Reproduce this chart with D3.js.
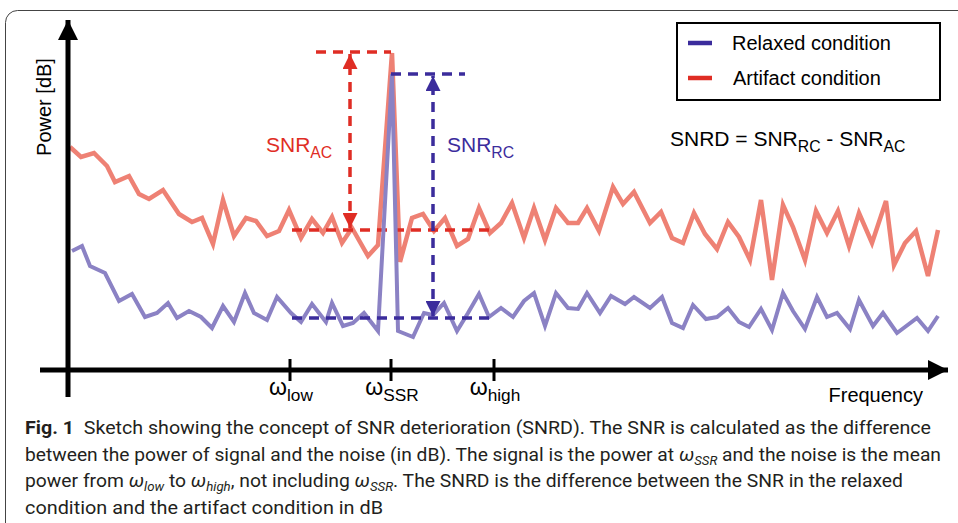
<!DOCTYPE html>
<html>
<head>
<meta charset="utf-8">
<script src="https://cdn.jsdelivr.net/npm/d3@7"></script>
<style>
  body { margin: 0; background: #fff; }
  text { font-family: "Liberation Sans", Arial, sans-serif; }
</style>
</head>
<body>
<svg id="chart" width="958" height="523"></svg>
<script>
// spectrum sketch, values (freq in arbitrary units, power in dB)
var redFreq = [0, 1.1, 2.4, 3.7, 4.5, 5.9, 6.9, 7.9, 9.3, 10.9, 12.2, 13.2, 14.3, 15.3, 16.4, 17.6, 18.6, 19.7, 20.9, 21.9,
  23.1, 24.2, 25.3, 26.2, 27.2, 28.2, 29.8, 30.8, 32.2, 33.0, 34.2, 35.3, 36.4, 37.5, 38.7, 39.8, 40.9, 42.0, 43.1, 44.2,
  45.4, 46.4, 47.5, 48.6, 49.8, 50.8, 51.7, 52.9, 54.3, 55.3, 56.4, 58.0, 59.1, 60.2, 61.3, 62.4, 63.5, 64.7, 65.8, 66.9,
  68.0, 69.1, 70.2, 71.3, 72.3, 73.5, 74.6, 75.7, 76.8, 77.9, 78.9, 80.2, 81.6, 82.4, 83.5, 84.6, 85.8, 86.8];
var redPower = [22.3, 21.3, 21.7, 20.4, 18.8, 19.4, 17.6, 17.1, 18.0, 15.6, 14.8, 15.2, 12.6, 17.0, 13.4, 15.2, 14.9, 13.4, 13.9, 16.0,
  13.2, 15.1, 13.7, 15.3, 12.7, 14.2, 11.4, 12.5, 31.7, 10.8, 15.2, 15.6, 13.9, 15.2, 12.4, 13.1, 16.2, 13.7, 14.7, 16.7,
  13.2, 16.2, 13.0, 16.2, 14.7, 14.7, 16.2, 13.9, 18.3, 16.6, 17.8, 14.7, 15.8, 13.2, 12.7, 15.7, 13.6, 12.1, 14.8, 13.3,
  11.0, 17.0, 9.0, 16.5, 14.3, 11.0, 15.9, 13.7, 15.9, 12.4, 15.7, 12.7, 16.9, 10.5, 12.7, 13.9, 9.4, 14.0];

var blueFreq = [0.2, 1.2, 2.0, 3.5, 4.9, 6.2, 7.5, 8.7, 9.8, 10.7, 11.9, 13.1, 14.2, 15.3, 16.4, 17.5, 18.4, 19.7, 20.7, 22.1,
  23.1, 24.2, 25.6, 26.2, 27.3, 28.3, 29.4, 30.8, 32.2, 32.8, 34.3, 35.4, 36.3, 37.4, 38.7, 39.8, 40.9, 41.9, 43.1, 44.3,
  45.4, 46.4, 47.5, 48.6, 49.8, 50.8, 51.7, 53.0, 54.1, 55.5, 56.4, 58.0, 59.2, 60.2, 61.3, 62.3, 63.6, 64.7, 65.8, 66.9,
  67.9, 69.1, 70.2, 71.3, 72.3, 73.5, 74.7, 75.7, 76.7, 78.0, 78.9, 80.3, 81.3, 82.7, 84.7, 85.8, 86.8];
var bluePower = [11.9, 12.4, 10.4, 9.7, 6.9, 7.6, 5.3, 5.7, 6.7, 5.2, 5.9, 5.3, 4.2, 6.4, 4.8, 7.7, 5.7, 5.0, 7.3, 5.7,
  4.8, 6.6, 4.8, 6.7, 4.4, 4.7, 5.7, 3.9, 29.6, 3.9, 3.3, 5.7, 5.5, 6.7, 3.9, 5.7, 7.6, 5.3, 6.2, 5.3,
  6.9, 7.7, 4.4, 7.7, 6.2, 6.1, 7.7, 5.7, 7.4, 6.6, 7.3, 6.2, 7.3, 4.7, 4.2, 6.5, 5.1, 5.3, 6.2, 4.8,
  4.3, 6.1, 4.0, 7.7, 5.9, 4.1, 7.3, 5.3, 5.7, 4.1, 7.0, 4.4, 5.7, 3.7, 5.2, 3.9, 5.4];

// frequency marks on the axis
var markFreq = [22.0, 32.1, 42.4];
var markSub = ["low", "SSR", "high"];

// SNR annotation levels
var noiseAC = 14.0, signalAC = 31.8, noiseRC = 5.2, signalRC = 29.6;
var noiseFrom = 22.2, noiseTo = 42.5;
var arrowAC = 28.0, arrowRC = 36.3;
var topACFrom = 24.6, topRCTo = 39.5;

var legendNames = ["Relaxed condition", "Artifact condition"];

var RED_LINE = "#ee8174", BLUE_LINE = "#8b82c4";
var RED = "#df2d24", BLUE = "#3b2c9c";

var svg = d3.select("#chart");

var x = d3.scaleLinear().domain([0, 87.5]).range([70, 945]);
var y = d3.scaleLinear().domain([0, 34]).range([370, 30]);

// frame round the figure
svg.append("rect")
  .attr("x", 5.5).attr("y", 10.5).attr("width", 1000).attr("height", 600)
  .attr("rx", 12).attr("fill", "none").attr("stroke", "#444").attr("stroke-width", 1);

var defs = svg.append("defs");
function addMarker(id, color, w, h) {
  defs.append("marker")
    .attr("id", id)
    .attr("viewBox", "0 -5 10 10")
    .attr("refX", 10).attr("refY", 0)
    .attr("markerUnits", "userSpaceOnUse")
    .attr("markerWidth", w).attr("markerHeight", h)
    .attr("orient", "auto-start-reverse")
    .append("path")
    .attr("d", "M0,-5L10,0L0,5Z")
    .attr("fill", color);
}
addMarker("arrRed", RED, 15, 15);
addMarker("arrBlue", BLUE, 15, 15);
addMarker("arrAxis", "#000", 24, 20);

var line = d3.line()
  .x(function (d) { return x(d[0]); })
  .y(function (d) { return y(d[1]); });

var redData = d3.zip(redFreq, redPower);
var blueData = d3.zip(blueFreq, bluePower);

svg.append("path").datum(redData)
  .attr("d", line).attr("fill", "none")
  .attr("stroke", RED_LINE).attr("stroke-width", 4.5).attr("stroke-linejoin", "miter");

// artifact condition annotation
var dash = "10,7";
function dline(x1, y1, x2, y2, color, arrows) {
  var l = svg.append("line")
    .attr("x1", x(x1)).attr("y1", y(y1)).attr("x2", x(x2)).attr("y2", y(y2))
    .attr("stroke", color).attr("stroke-width", 3.5).attr("stroke-dasharray", dash);
  if (arrows) l.attr("marker-start", "url(#" + arrows + ")").attr("marker-end", "url(#" + arrows + ")");
  return l;
}
dline(noiseFrom, noiseAC, noiseTo, noiseAC, RED);
dline(topACFrom, signalAC, markFreq[1], signalAC, RED);
dline(arrowAC, noiseAC + 0.2, arrowAC, signalAC - 0.2, RED, "arrRed");

svg.append("path").datum(blueData)
  .attr("d", line).attr("fill", "none")
  .attr("stroke", BLUE_LINE).attr("stroke-width", 4).attr("stroke-linejoin", "miter");

dline(noiseFrom, noiseRC, noiseTo, noiseRC, BLUE);
dline(markFreq[1], signalRC, topRCTo, signalRC, BLUE);
dline(arrowRC, noiseRC + 0.2, arrowRC, signalRC - 0.2, BLUE, "arrBlue");

// axes
svg.append("line")
  .attr("x1", 40).attr("y1", y(0)).attr("x2", 948).attr("y2", y(0))
  .attr("stroke", "#000").attr("stroke-width", 5).attr("marker-end", "url(#arrAxis)");
svg.append("line")
  .attr("x1", x(-0.2)).attr("y1", 397).attr("x2", x(-0.2)).attr("y2", 20)
  .attr("stroke", "#000").attr("stroke-width", 5).attr("marker-end", "url(#arrAxis)");

svg.selectAll(".tick").data(markFreq).enter().append("line")
  .attr("class", "tick")
  .attr("x1", function (d) { return x(d); }).attr("x2", function (d) { return x(d); })
  .attr("y1", y(0) - 11).attr("y2", y(0) + 11)
  .attr("stroke", "#000").attr("stroke-width", 3);

function subText(px, py, parts, size, color, anchor) {
  var t = svg.append("text").attr("x", px).attr("y", py)
    .attr("fill", color).attr("font-size", size).attr("text-anchor", anchor || "start");
  var shift = 0;
  parts.forEach(function (p) {
    var ts = t.append("tspan").text(p[0]);
    var want = p[1] ? 6 : 0;
    if (want !== shift) { ts.attr("dy", want - shift); shift = want; }
    if (p[1]) ts.attr("font-size", size * 0.75);
  });
  return t;
}

markFreq.forEach(function (f, i) {
  subText(x(f) + 1, 395, [["\u03c9", 0], [markSub[i], 1]], 23, "#000", "middle");
});

svg.append("text").attr("x", 923).attr("y", 402).attr("text-anchor", "end")
  .attr("font-size", 20).text("Frequency");

svg.append("text")
  .attr("transform", "translate(51,107) rotate(-90)")
  .attr("text-anchor", "middle").attr("font-size", 20).text("Power [dB]");

subText(266, 152, [["SNR", 0], ["AC", 1]], 21, RED);
subText(447, 152, [["SNR", 0], ["RC", 1]], 21, BLUE);
subText(670, 146, [["SNRD = SNR", 0], ["RC", 1], [" - SNR", 0], ["AC", 1]], 21, "#000");

// legend
var legend = svg.append("g");
legend.append("rect").attr("x", 677).attr("y", 23).attr("width", 263).attr("height", 77)
  .attr("fill", "#fff").attr("stroke", "#000").attr("stroke-width", 2);
[BLUE, RED].forEach(function (c, i) {
  legend.append("line").attr("x1", 688).attr("x2", 712)
    .attr("y1", 43 + i * 35).attr("y2", 43 + i * 35)
    .attr("stroke", c).attr("stroke-width", 4.5);
  legend.append("text").attr("x", 732 + i).attr("y", 50 + i * 35)
    .attr("font-size", 20).text(legendNames[i]);
});

// caption
var capLines = [
  [["Fig. 1", "b"], ["  Sketch showing the concept of SNR deterioration (SNRD). The SNR is calculated as the difference", ""]],
  [["between the power of signal and the noise (in dB). The signal is the power at ", ""], ["\u03c9", "i"], ["SSR", "is"],
    [" and the noise is the mean", ""]],
  [["power from ", ""], ["\u03c9", "i"], ["low", "is"], [" to ", ""], ["\u03c9", "i"], ["high", "is"],
    [", not including ", ""], ["\u03c9", "i"], ["SSR", "is"], [". The SNRD is the difference between the SNR in the relaxed", ""]],
  [["condition and the artifact condition in dB", ""]]
];
var capWidth = [906, 916, 878, 358];
capLines.forEach(function (parts, i) {
  var t = svg.append("text").attr("x", 25).attr("y", 434 + i * 26.5)
    .style("font-family", "Roboto, sans-serif").attr("font-size", 19).attr("fill", "#231f20")
    .attr("textLength", capWidth[i]).attr("lengthAdjust", "spacingAndGlyphs")
    .style("white-space", "pre");
  var shift = 0;
  parts.forEach(function (p) {
    var ts = t.append("tspan").text(p[0]);
    if (p[1] === "b") ts.attr("font-weight", "bold");
    if (p[1].indexOf("i") >= 0) ts.attr("font-style", "italic");
    var want = p[1] === "is" ? 4 : 0;
    if (want !== shift) { ts.attr("dy", want - shift); shift = want; }
    if (p[1] === "is") ts.attr("font-size", 13);
  });
});
</script>
</body>
</html>
